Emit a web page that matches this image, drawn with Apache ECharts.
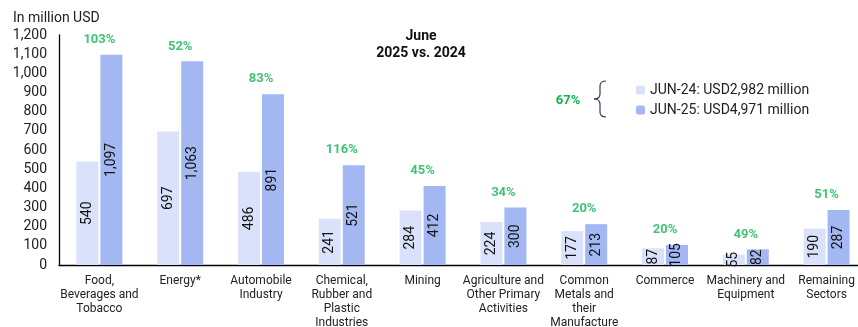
<!DOCTYPE html>
<html><head><meta charset="utf-8">
<script src="https://cdn.jsdelivr.net/npm/echarts@6/dist/echarts.min.js"></script>
<style>html,body{margin:0;padding:0;background:#fff}#c{width:858px;height:327px}</style>
</head><body><div id="c"></div>
<script>
const categories = ['Food,\nBeverages and\nTobacco','Energy*','Automobile\nIndustry','Chemical,\nRubber and\nPlastic\nIndustries','Mining','Agriculture and\nOther Primary\nActivities','Common\nMetals and\ntheir\nManufacture','Commerce','Machinery and\nEquipment','Remaining\nSectors'];
const jun24 = [540,697,486,241,284,224,177,87,55,190];
const jun25 = [1097,1063,891,521,412,300,213,105,82,287];
const growth = ['103%','52%','83%','116%','45%','34%','20%','20%','49%','51%'];
const seriesNames = ['JUN-24: USD2,982 million','JUN-25: USD4,971 million'];
const totalGrowth = '67%';
const yTicks = [0,100,200,300,400,500,600,700,800,900,1000,1100,1200];

const chart = echarts.init(document.getElementById('c'));
const F = 'Roboto, sans-serif';
const GREEN = '#10b452';
const lbl = {show:true, position:'inside', rotate:90, color:'#111', fontSize:14, fontFamily:F,
  formatter: p => p.value.toLocaleString('en-US')};
const bs = {stroke:'#2f3b5c', lineWidth:1.2, fill:null};
const q = (x1,y1,cx,cy,x2,y2) => ({type:'bezierCurve', shape:{x1,y1,cpx1:cx,cpy1:cy,x2,y2}, style:bs});
const ln = (x1,y1,x2,y2) => ({type:'line', shape:{x1,y1,x2,y2}, style:bs});
chart.setOption({
  animation:false,
  textStyle:{fontFamily:F},
  grid:{left:59, top:35, bottom:62, width:808, containLabel:false, outerBoundsMode:'none'},
  legend:{left:631, top:78, orient:'vertical', itemWidth:9, itemHeight:9, itemGap:6,
    textStyle:{fontSize:14, color:'#222', fontFamily:F}, data:seriesNames, selectedMode:false},
  xAxis:{type:'category', data:categories,
    axisLine:{lineStyle:{color:'#000', width:1.3}},
    axisTick:{inside:true, length:5, lineStyle:{color:'#000'}},
    axisLabel:{color:'#222', fontSize:12, lineHeight:14, margin:9, interval:0, fontFamily:F}},
  yAxis:{type:'value', min:0, max:1200, interval:100,
    axisLine:{show:true, lineStyle:{color:'#000', width:1.3}},
    axisTick:{show:false}, splitLine:{show:false},
    axisLabel:{color:'#222', fontSize:14, margin:12, fontFamily:F,
      formatter: v => yTicks.includes(v) ? v.toLocaleString('en-US') : ''}},
  series:[
    {name:seriesNames[0], type:'bar', data:jun24, barWidth:22, barGap:'9%', itemStyle:{color:'#d9e2fa'}, label:lbl},
    {name:seriesNames[1], type:'bar', data:jun25, barWidth:22, itemStyle:{color:'#a3b8f3'}, label:lbl},
    {type:'scatter', data:jun25, symbolSize:1, itemStyle:{color:'rgba(0,0,0,0)'}, silent:true, z:5,
      label:{show:true, position:'top', distance:8, color:GREEN, fontWeight:'bold', fontSize:13, fontFamily:F,
        formatter: p => growth[p.dataIndex]}}
  ],
  graphic:[
    {type:'text', left:13, top:11, style:{text:'In million USD', fontSize:14, fill:'#222', fontFamily:F}},
    {type:'text', x:421, y:36, style:{text:'June', fontSize:14, fontWeight:'bold', fill:'#111', align:'center', verticalAlign:'middle', fontFamily:F}},
    {type:'text', x:421, y:53, style:{text:'2025 vs. 2024', fontSize:14, fontWeight:'bold', fill:'#111', align:'center', verticalAlign:'middle', fontFamily:F}},
    {type:'text', x:568, y:101, style:{text:totalGrowth, fontSize:13, fontWeight:'bold', fill:GREEN, align:'center', verticalAlign:'middle', fontFamily:F}},
    q(606,81,600,81,600,86), ln(600,86,600,94), q(600,94,600,99,594,99),
    q(594,99,600,99,600,104), ln(600,104,600,112), q(600,112,600,117,606,117)
  ]
});
</script></body></html>
